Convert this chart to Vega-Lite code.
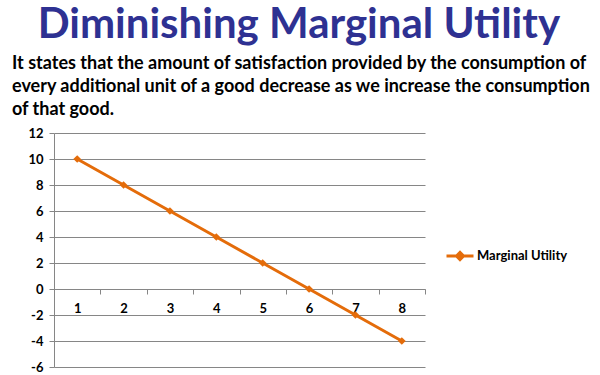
{
  "$schema": "https://vega.github.io/schema/vega-lite/v6.json",
  "width": 371,
  "height": 234,
  "autosize": {"type": "none"},
  "padding": {"left": 54, "top": 133, "right": 175, "bottom": 8},
  "background": "white",
  "title": {
    "text": "\u200b\u00a0\u00a0\u2009Diminishing Marginal Utility",
    "subtitle": [
      "It states that the amount of satisfaction provided by the consumption of",
      "every additional unit of a good decrease as we increase the consumption",
      "of that good."
    ],
    "anchor": "start",
    "align": "left",
    "frame": "group",
    "dx": -42,
    "font": "Lato",
    "fontSize": 42,
    "fontWeight": "bold",
    "color": "#2E3192",
    "subtitleFont": "Lato",
    "subtitleFontSize": 18,
    "subtitleFontWeight": "bold",
    "subtitleColor": "#000000",
    "subtitleLineHeight": 23,
    "subtitlePadding": 8,
    "offset": 7
  },
  "data": {
    "values": [
      {"unit": "1", "utility": 10, "series": "Marginal Utility"},
      {"unit": "2", "utility": 8, "series": "Marginal Utility"},
      {"unit": "3", "utility": 6, "series": "Marginal Utility"},
      {"unit": "4", "utility": 4, "series": "Marginal Utility"},
      {"unit": "5", "utility": 2, "series": "Marginal Utility"},
      {"unit": "6", "utility": 0, "series": "Marginal Utility"},
      {"unit": "7", "utility": -2, "series": "Marginal Utility"},
      {"unit": "8", "utility": -4, "series": "Marginal Utility"}
    ]
  },
  "mark": {
    "type": "line",
    "strokeWidth": 3,
    "point": {"shape": "diamond", "size": 60, "filled": true}
  },
  "encoding": {
    "x": {
      "field": "unit",
      "type": "ordinal",
      "scale": {"type": "band", "paddingInner": 0, "paddingOuter": 0},
      "axis": {
        "title": null,
        "labelAngle": 0,
        "offset": -78,
        "domainColor": "#868686",
        "tickColor": "#868686",
        "tickBand": "extent",
        "tickSize": 5,
        "labelPadding": 8,
        "labelFont": "Lato",
        "labelFontWeight": "bold",
        "labelFontSize": 13,
        "labelColor": "#000000",
        "grid": false
      }
    },
    "y": {
      "field": "utility",
      "type": "quantitative",
      "scale": {"domain": [-6, 12], "nice": false, "zero": false},
      "axis": {
        "title": null,
        "values": [-6, -4, -2, 0, 2, 4, 6, 8, 10, 12],
        "labelExpr": "'' + datum.value",
        "grid": true,
        "gridColor": "#868686",
        "gridOpacity": 1,
        "domainColor": "#868686",
        "tickColor": "#868686",
        "tickSize": 5,
        "labelPadding": 6,
        "labelFont": "Lato",
        "labelFontWeight": "bold",
        "labelFontSize": 13,
        "labelColor": "#000000"
      }
    },
    "color": {
      "field": "series",
      "type": "nominal",
      "scale": {"range": ["#E46C0A"]},
      "legend": {
        "title": null,
        "orient": "none",
        "legendX": 391,
        "legendY": 108,
        "symbolType": "M-1,0H1M-0.26,0L0,-0.26L0.26,0L0,0.26Z",
        "symbolSize": 729,
        "symbolStrokeWidth": 3,
        "labelFont": "Lato",
        "labelFontWeight": "bold",
        "labelFontSize": 13,
        "labelColor": "#000000",
        "labelOffset": 2,
        "encode": {"symbols": {"update": {"fill": {"value": "#E46C0A"}, "stroke": {"value": "#E46C0A"}}}}
      }
    }
  },
  "config": {"view": {"stroke": null}}
}
